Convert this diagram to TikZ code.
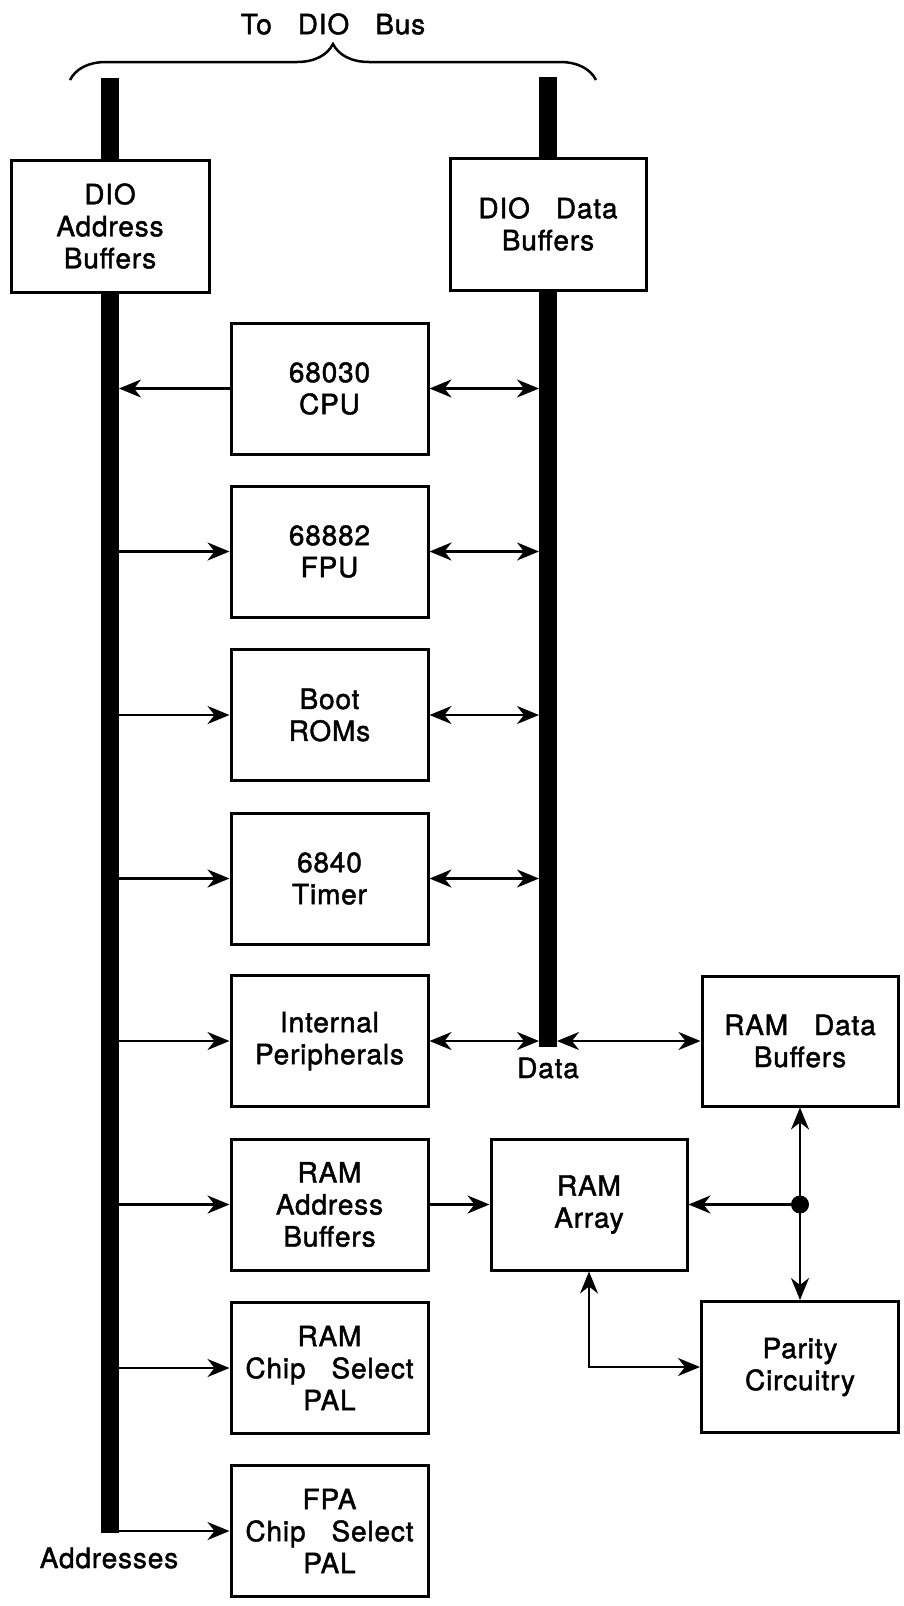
\documentclass[tikz,border=0pt]{standalone}
\usepackage{fontspec}
\setmainfont{TeX Gyre Heros}[LetterSpace=3,FakeBold=1.6]
\usetikzlibrary{arrows.meta,decorations.pathreplacing}
\newcommand{\wg}{\hspace{26pt}}
\begin{document}
\begin{tikzpicture}[x=1pt,y=-1pt,
  box/.style={draw,line width=3pt,fill=white,minimum width=197pt,minimum height=131pt,inner sep=0pt,align=center,font=\fontsize{28}{32}\selectfont},
  lbl/.style={inner sep=0pt,font=\fontsize{28}{32}\selectfont},
  arr/.style={line width=2.5pt,-{Stealth[length=22pt,width=18pt,inset=7pt]}},
  darr/.style={line width=2.5pt,{Stealth[length=22pt,width=18pt,inset=7pt]}-{Stealth[length=22pt,width=18pt,inset=7pt]}},
  bus/.style={line width=18pt}
]
\useasboundingbox (0,0) rectangle (903,1606);
% buses
\coordinate (abt) at (110,78);
\coordinate (abb) at (110,1533);
\coordinate (dbt) at (548,77);
\coordinate (dbb) at (548,1047);
\draw[bus] (abt) -- (abb);
\draw[bus] (dbt) -- (dbb);
\coordinate (abr) at (119,0);
\coordinate (dbl) at (539,0);
\coordinate (dbr) at (557,0);
% brace and title
\draw[line width=2.5pt,decorate,decoration={brace,amplitude=36pt}] (70,80) -- (596,80);
\node[lbl] (tb) at (333,24) {To\wg DIO\wg Bus};
% boxes
\node[box,minimum width=198pt,minimum height=132pt] (dab) at (110,226) {DIO\\Address\\Buffers};
\node[box,minimum width=196pt,minimum height=132pt] (ddb) at (548,224) {DIO\wg Data\\Buffers};
\node[box] (cpu) at (329.5,388.5) {68030\\CPU};
\node[box] (fpu) at (329.5,551.5) {68882\\FPU};
\node[box] (rom) at (329.5,715) {Boot\\ROMs};
\node[box] (tim) at (329.5,878.5) {6840\\Timer};
\node[box] (ip) at (329.5,1041) {Internal\\Peripherals};
\node[box] (rab) at (329.5,1204.5) {RAM\\Address\\Buffers};
\node[box] (rcs) at (329.5,1368) {RAM\\Chip\wg Select\\PAL};
\node[box] (fcs) at (329.5,1531) {FPA\\Chip\wg Select\\PAL};
\node[box,minimum width=196pt,minimum height=130pt] (rdb) at (800,1041) {RAM\wg Data\\Buffers};
\node[box,minimum width=196pt] (ra) at (589,1204.5) {RAM\\Array};
\node[box] (par) at (800,1367) {Parity\\Circuitry};
% labels
\node[lbl] (dl) at (548,1068) {Data};
\node[lbl] (al) at (109,1558) {Addresses};
% address bus connectors
\draw[arr] (cpu.west) -- (cpu.west -| abr);
\foreach \n in {fpu,rom,tim,ip,rab,rcs,fcs}
  \draw[arr] (\n.west -| abr) -- (\n.west);
% data bus connectors
\foreach \n in {cpu,fpu,rom,tim,ip}
  \draw[darr] (\n.east) -- (\n.east -| dbl);
\draw[darr] (ip.east -| dbr) -- (rdb.west);
% RAM section
\draw[arr] (rab.east) -- (ra.west);
\coordinate (j) at (rdb.south |- ra.east);
\fill (j) circle (9);
\draw[arr] (j) -- (ra.east);
\draw[arr] (j) -- (rdb.south);
\draw[arr] (j) -- (par.north);
\draw[darr] (ra.south) |- (par.west);
\end{tikzpicture}
\end{document}
